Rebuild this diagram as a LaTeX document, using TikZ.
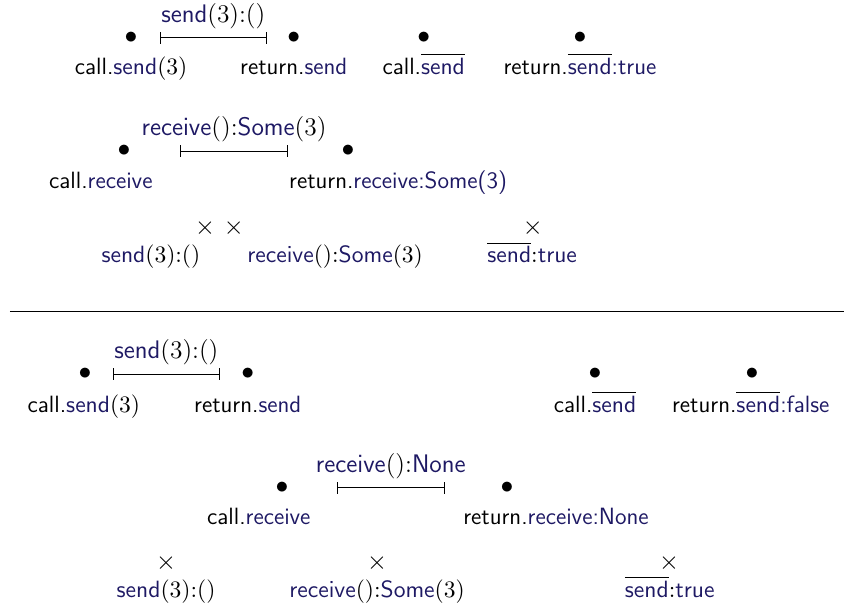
\RequirePackage{fix-cm}
\documentclass[tikz,border=0pt]{standalone}
\usepackage{amsmath}
\tikzset{>=stealth}
\definecolor{opblue}{RGB}{30,25,100}
\newcommand{\op}[1]{\textcolor{opblue}{\mathsf{#1}}}
\newcommand{\opbar}[1]{\overline{\op{#1}}}
\tikzset{
  ev/.style={inner sep=0pt, font=\fontsize{12.5}{15}\selectfont},
  lab/.style={anchor=base, inner sep=0pt},
  ivl/.style={|-|},
  ivlab/.style={above=1pt, font=\sffamily\fontsize{12.4}{15}\selectfont},
}

\begin{document}
\begin{tikzpicture}[font=\sffamily\fontsize{11.5}{14}\selectfont]
\useasboundingbox (0,0) rectangle (14.48,10.50);

\node[ev] (cs1) at (2.25,9.85) {$\bullet$};
\node[ev] (rs1) at (5.04,9.85) {$\bullet$};
\node[ev] (cb1) at (7.27,9.85) {$\bullet$};
\node[ev] (rb1) at (9.95,9.85) {$\bullet$};
\coordinate (is1a) at (2.74,9.85);
\coordinate (is1b) at (4.58,9.85);
\draw[ivl] (is1a) -- node[ivlab] (ls1) {$\op{send}(3){:}()$} (is1b);
\node[lab] (lcs1) at (2.25,9.23) {call.$\op{send}(3)$};
\node[lab] (lrs1) at (5.04,9.23) {return.\textcolor{opblue}{send}};
\node[lab] (lcb1) at (7.27,9.23) {call.$\opbar{send}$};
\node[lab] (lrb1) at (9.95,9.23) {return.$\opbar{send}$\textcolor{opblue}{:true}};

\node[ev] (cr1) at (2.13,7.91) {$\bullet$};
\node[ev] (rr1) at (5.97,7.91) {$\bullet$};
\coordinate (ir1a) at (3.09,7.91);
\coordinate (ir1b) at (4.94,7.91);
\draw[ivl] (ir1a) -- node[ivlab] (lr1) {$\op{receive}(){:}\op{Some}(3)$} (ir1b);
\node[lab] (lcr1) at (1.73,7.26) {call.\textcolor{opblue}{receive}};
\node[lab] (lrr1) at (6.83,7.26) {return.\textcolor{opblue}{receive:Some(3)}};

\node[ev] (xs1) at (3.52,6.59) {$\times$};
\node[ev] (xr1) at (4.01,6.59) {$\times$};
\node[ev] (xb1) at (9.14,6.59) {$\times$};
\node[lab] (lxs1) at (2.59,5.99) {$\op{send}(3){:}()$};
\node[lab] (lxr1) at (5.75,5.99) {$\op{receive}(){:}\op{Some}(3)$};
\node[lab] (lxb1) at (9.13,5.99) {$\opbar{send}{:}\op{true}$};

\coordinate (sepa) at (0.17,5.16);
\coordinate (sepb) at (14.48,5.16);
\draw (sepa) -- (sepb);

\node[ev] (cs2) at (1.46,4.08) {$\bullet$};
\node[ev] (rs2) at (4.25,4.08) {$\bullet$};
\node[ev] (cb2) at (10.21,4.08) {$\bullet$};
\node[ev] (rb2) at (12.90,4.08) {$\bullet$};
\coordinate (is2a) at (1.94,4.08);
\coordinate (is2b) at (3.77,4.08);
\draw[ivl] (is2a) -- node[ivlab] (ls2) {$\op{send}(3){:}()$} (is2b);
\node[lab] (lcs2) at (1.44,3.43) {call.$\op{send}(3)$};
\node[lab] (lrs2) at (4.25,3.43) {return.\textcolor{opblue}{send}};
\node[lab] (lcb2) at (10.21,3.43) {call.$\opbar{send}$};
\node[lab] (lrb2) at (12.88,3.43) {return.$\opbar{send}$\textcolor{opblue}{:false}};

\node[ev] (cr2) at (4.84,2.13) {$\bullet$};
\node[ev] (rr2) at (8.70,2.13) {$\bullet$};
\coordinate (ir2a) at (5.78,2.13);
\coordinate (ir2b) at (7.63,2.13);
\draw[ivl] (ir2a) -- node[ivlab] (lr2) {$\op{receive}(){:}\op{None}$} (ir2b);
\node[lab] (lcr2) at (4.44,1.51) {call.\textcolor{opblue}{receive}};
\node[lab] (lrr2) at (9.54,1.51) {return.\textcolor{opblue}{receive:None}};

\node[ev] (xs2) at (2.85,0.84) {$\times$};
\node[ev] (xr2) at (6.47,0.84) {$\times$};
\node[ev] (xb2) at (11.48,0.84) {$\times$};
\node[lab] (lxs2) at (2.85,0.25) {$\op{send}(3){:}()$};
\node[lab] (lxr2) at (6.47,0.25) {$\op{receive}(){:}\op{Some}(3)$};
\node[lab] (lxb2) at (11.49,0.25) {$\opbar{send}{:}\op{true}$};
\end{tikzpicture}
\end{document}
